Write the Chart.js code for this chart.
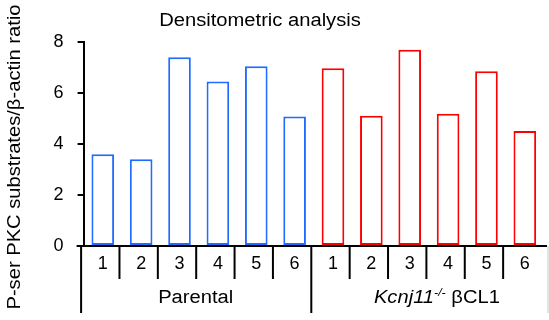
<!DOCTYPE html>
<html>
<head>
<meta charset="utf-8">
<script src="https://cdn.jsdelivr.net/npm/chart.js@4/dist/chart.umd.min.js"></script>
<style>
  html, body { margin: 0; padding: 0; background: #fff; }
  #wrap { width: 549px; height: 320px; position: relative; }
</style>
</head>
<body>
<div id="wrap"><canvas id="c"></canvas></div>
<script>
// ---- data ----
const categories = ['1', '2', '3', '4', '5', '6', '1', '2', '3', '4', '5', '6'];
const parentalValues = [3.6, 3.4, 7.4, 6.45, 7.05, 5.08];
const kcnjValues = [6.97, 5.11, 7.7, 5.19, 6.85, 4.51];
const groupLabels = ['Parental', 'Kcnj11'];
const yTicks = [0, 2, 4, 6, 8];
const chartTitle = 'Densitometric analysis';
const yTitle = 'P-ser PKC substrates/\u03B2-actin ratio';

const FONT = "'Liberation Sans', Arial, Helvetica, sans-serif";
Chart.defaults.font.family = FONT;
Chart.defaults.color = '#000';

const blanks = parentalValues.map(() => null);
const parentalData = parentalValues.concat(kcnjValues.map(() => null));
const kcnjData = blanks.concat(kcnjValues);

const SX = 1.12; // horizontal stretch of the reference lettering

const decor = {
  id: 'decor',
  afterDraw(chart) {
    const ctx = chart.ctx;
    const x = chart.scales.x, y = chart.scales.y;
    const y0 = y.getPixelForValue(0);
    const n = categories.length;
    const step = (x.getPixelForValue(1) - x.getPixelForValue(0));
    const boundary = i => x.getPixelForValue(0) - step / 2 + i * step;
    ctx.save();
    ctx.strokeStyle = '#000';
    ctx.lineWidth = 2;
    ctx.lineCap = 'butt';
    // x axis line
    ctx.beginPath();
    ctx.moveTo(chart.chartArea.left - 7, y0);
    ctx.lineTo(boundary(n) + 3, y0);
    ctx.stroke();
    // separators
    for (let i = 0; i < n; i++) {
      const bx = boundary(i) - 2.5;
      const long = (i === 0 || i === 6);
      ctx.beginPath();
      ctx.moveTo(bx, y0);
      ctx.lineTo(bx, y0 + (long ? 67 : 33));
      ctx.stroke();
    }
    // right edge (light)
    ctx.strokeStyle = '#c8c8c8';
    ctx.lineWidth = 1;
    ctx.beginPath();
    ctx.moveTo(boundary(n) + 4, y0);
    ctx.lineTo(boundary(n) + 4, y0 + 67);
    ctx.stroke();

    ctx.fillStyle = '#000';
    ctx.textBaseline = 'middle';
    const put = (text, px, py, align) => {
      ctx.save();
      ctx.translate(px, py);
      ctx.scale(SX, 1);
      ctx.textAlign = align;
      ctx.fillText(text, 0, 0);
      ctx.restore();
    };
    // group labels
    ctx.font = '18px ' + FONT;
    const g1 = (boundary(0) + boundary(6)) / 2 - 3;
    put(groupLabels[0], g1, y0 + 52, 'center');
    // Kcnj11-/- βCL1
    const g2 = (boundary(6) + boundary(12)) / 2 + 8;
    const parts = [
      { t: groupLabels[1], f: 'italic 18px ' + FONT, dy: 0 },
      { t: '-/-', f: 'italic 11px ' + FONT, dy: -5 },
      { t: ' \u03B2CL1', f: '18px ' + FONT, dy: 0 }
    ];
    let total = 0;
    parts.forEach(p => { ctx.font = p.f; p.w = ctx.measureText(p.t).width * SX; total += p.w; });
    let cx = g2 - total / 2;
    parts.forEach(p => { ctx.font = p.f; put(p.t, cx, y0 + 52 + p.dy, 'left'); cx += p.w; });

    // title
    ctx.font = '18px ' + FONT;
    put(chartTitle, 260, 21, 'center');
    // y title
    ctx.save();
    ctx.translate(15, 157);
    ctx.rotate(-Math.PI / 2);
    ctx.scale(SX, 1);
    ctx.textAlign = 'center';
    ctx.fillText(yTitle, 0, 0);
    ctx.restore();
    ctx.restore();
  }
};

new Chart(document.getElementById('c'), {
  type: 'bar',
  data: {
    labels: categories,
    datasets: [
      { label: 'Parental', data: parentalData, borderColor: '#1f6cff', backgroundColor: '#ffffff', borderWidth: 2, borderSkipped: false },
      { label: 'Kcnj11-/- βCL1', data: kcnjData, borderColor: '#ff0000', backgroundColor: '#ffffff', borderWidth: 2, borderSkipped: false }
    ]
  },
  options: {
    responsive: true,
    maintainAspectRatio: false,
    animation: false,
    events: [],
    layout: { padding: { top: 42, right: 5, left: 0, bottom: 0 } },
    datasets: { bar: { grouped: false, categoryPercentage: 1, barPercentage: 0.59 } },
    plugins: { legend: { display: false }, tooltip: { enabled: false }, title: { display: false } },
    scales: {
      x: {
        type: 'category',
        grid: { display: false, drawTicks: false },
        border: { display: false },
        ticks: { font: { size: 18 }, padding: 7, color: '#000', maxRotation: 0, autoSkip: false },
        afterFit(s) { s.height = 74; }
      },
      y: {
        min: 0, max: 8,
        afterBuildTicks(s) { s.ticks = yTicks.map(v => ({ value: v })); },
        grid: { display: true, drawOnChartArea: false, drawTicks: true, tickLength: 6, color: '#000', lineWidth: 2 },
        border: { display: true, color: '#000', width: 2 },
        ticks: { font: { size: 18 }, padding: 14, color: '#000' },
        afterFit(s) { s.width = 83.6; }
      }
    }
  },
  plugins: [decor]
});
</script>
</body>
</html>
